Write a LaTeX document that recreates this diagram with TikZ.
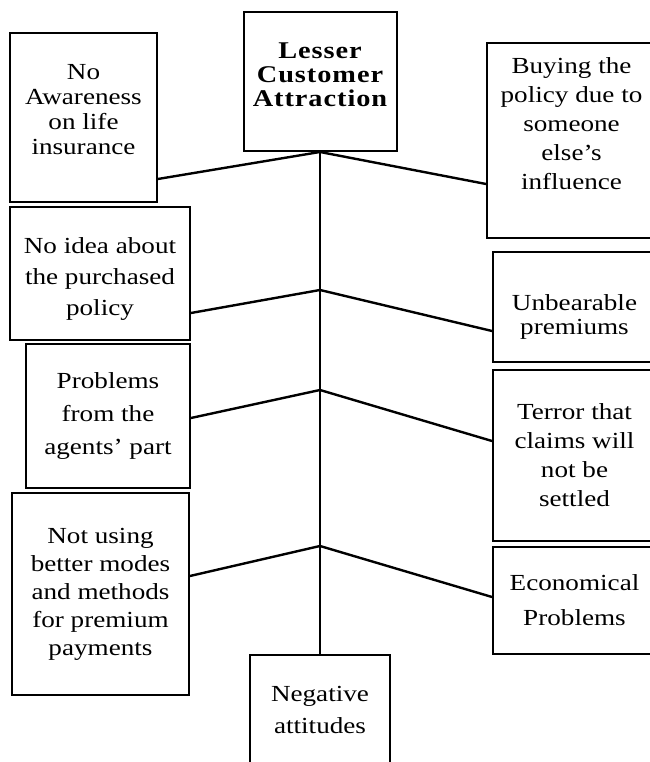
\documentclass[tikz,border=0pt]{standalone}
\usepackage{fontspec}
\setmainfont[FakeStretch=1.18]{Liberation Serif}
\usetikzlibrary{positioning}

\begin{document}
\begin{tikzpicture}[x=1pt,y=1pt,
    box/.style={draw,line width=2pt,inner sep=0pt,align=center,
      font=\fontsize{23}{29}\selectfont},
    link/.style={line width=2.4pt}]
  \useasboundingbox (0,0) rectangle (649,762);
  % problem in the middle
  \node[box,minimum width=153pt,minimum height=139pt,
    font=\bfseries\fontsize{24}{24}\selectfont\addfontfeatures{LetterSpace=4}]
    (lca) at (320,680.5) {Lesser\\Customer\\Attraction\\[-10pt]\mbox{}};
  \node[box,minimum width=140pt,minimum height=120pt,font=\fontsize{23}{32}\selectfont]
    (neg) at (320,47) {Negative\\attitudes\\[-22pt]\mbox{}};
  % causes on the left
  \node[box,minimum width=147pt,minimum height=169pt,font=\fontsize{23}{25}\selectfont]
    (aware) at (83.5,644.5) {No\\Awareness\\on life\\insurance\\[-9pt]\mbox{}};
  \node[box,minimum width=180pt,minimum height=133pt,font=\fontsize{23}{31}\selectfont]
    (idea) at (100,488.5) {\mbox{}\\[-5pt]No idea about\\the purchased\\policy};
  \node[box,minimum width=164pt,minimum height=144pt,font=\fontsize{23}{33}\selectfont]
    (agents) at (108,346) {Problems\\from the\\agents' part};
  \node[box,minimum width=177pt,minimum height=202pt,font=\fontsize{23}{28}\selectfont]
    (modes) at (100.5,168) {Not using\\better modes\\and methods\\for premium\\payments};
  % causes on the right
  \node[box,minimum width=169pt,minimum height=195pt]
    (buying) at (571.5,621.5) {Buying the\\policy due to\\someone\\else's\\influence\\[5pt]\mbox{}};
  \node[box,minimum width=163pt,minimum height=110pt,font=\fontsize{23}{24}\selectfont]
    (unbear) at (574.5,455) {\mbox{}\\[12pt]Unbearable\\premiums};
  \node[box,minimum width=163pt,minimum height=171pt]
    (terror) at (574.5,306.5) {Terror that\\claims will\\not be\\settled};
  \node[box,minimum width=163pt,minimum height=107pt,font=\fontsize{23}{35}\selectfont]
    (econ) at (574.5,161.5) {Economical\\Problems};

  \coordinate (j2) at (320,472);
  \coordinate (j3) at (320,372);
  \coordinate (j4) at (320,216);

  \draw[link] (lca.south) -- (neg.north);
  \path[link]
  (lca.south) edge ([yshift=24pt]aware.south east)
              edge ([yshift=-142pt]buying.north west)
  (j2) edge ([yshift=28pt]idea.south east)
       edge ([yshift=-80pt]unbear.north west)
  (j3) edge ([yshift=71pt]agents.south east)
       edge ([yshift=-72pt]terror.north west)
  (j4) edge ([yshift=120pt]modes.south east)
       edge ([yshift=-51pt]econ.north west);
\end{tikzpicture}
\end{document}
